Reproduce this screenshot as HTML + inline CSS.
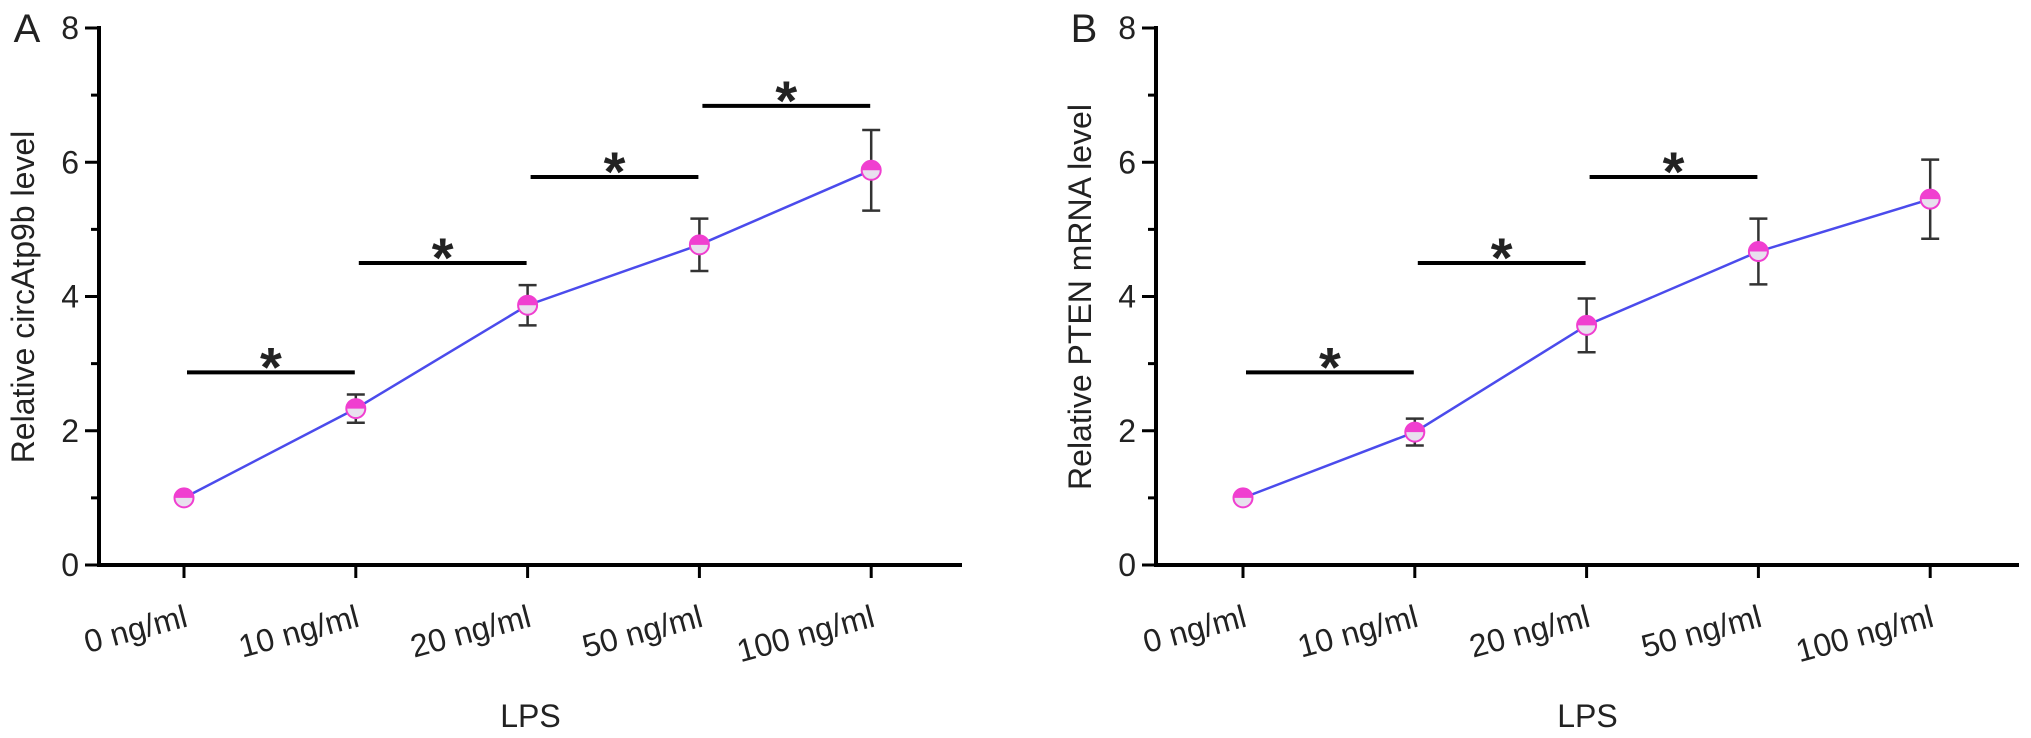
<!DOCTYPE html>
<html><head><meta charset="utf-8">
<style>
html,body{margin:0;padding:0;background:#fff;}
svg{display:block;}
text{font-family:"Liberation Sans",Arial,sans-serif;fill:#222;}
</style></head>
<body>
<svg id="chart" width="2031" height="738" viewBox="0 0 2031 738" xmlns="http://www.w3.org/2000/svg"></svg>
<script>
const categories = ["0 ng/ml","10 ng/ml","20 ng/ml","50 ng/ml","100 ng/ml"];
const yTicks = [0,2,4,6,8];
const valuesA = [1.0, 2.33, 3.87, 4.77, 5.88];
const errorsA = [0.0, 0.21, 0.30, 0.39, 0.60];
const valuesB = [1.0, 1.98, 3.57, 4.67, 5.45];
const errorsB = [0.0, 0.20, 0.40, 0.49, 0.59];
const sigA = [[0,1,2.87],[1,2,4.5],[2,3,5.78],[3,4,6.84]];
const sigB = [[0,1,2.87],[1,2,4.5],[2,3,5.78]];

const NS = "http://www.w3.org/2000/svg";
const svg = document.getElementById('chart');
function mk(tag, attrs, parent){
  const e = document.createElementNS(NS, tag);
  for (const k in attrs) e.setAttribute(k, attrs[k]);
  (parent||svg).appendChild(e);
  return e;
}

function panel(cfg){
  const g = mk('g', {});
  
  
  const ax = cfg.axisX, y0 = 565, y8 = 28, xEnd = cfg.axisX + 863;
  const yS = v => y0 - (v/8)*(y0-y8);
  const xS = i => cfg.cat0 + i*171.8;

  const yAxis = mk('line', {x1:ax, y1:y8-2, x2:ax, y2:y0+2, stroke:'#000','stroke-width':4}, g);
  
  
  const xAxis = mk('line', {x1:ax-2, y1:y0, x2:xEnd, y2:y0, stroke:'#000','stroke-width':4}, g);
  
  

  for (let v=0; v<=8; v++){
    const major = v%2===0;
    const t = mk('line', {x1:ax-(major?14:8), y1:yS(v), x2:ax, y2:yS(v), stroke:'#000','stroke-width':3}, g);
    
    
  }
  yTicks.forEach(v=>{
    const t = mk('text', {x:ax-20, y:yS(v)+11, 'font-size':32, 'text-anchor':'end'}, g);
    t.textContent = v;
    
    
  });

  categories.forEach((c,i)=>{
    const x = xS(i);
    const t = mk('line', {x1:x, y1:y0, x2:x, y2:y0+13, stroke:'#000','stroke-width':3}, g);
    
    
    const lbl = mk('text', {x:x+5, y:626, 'font-size':32, 'text-anchor':'end', transform:`rotate(-15 ${x+5} 626)`}, g);
    lbl.textContent = c;
    
    
  });

  const xt = mk('text', {x:(ax+xEnd)/2, y:727, 'font-size':32, 'text-anchor':'middle'}, g);
  xt.textContent = 'LPS';
  
  
  const tx = cfg.titleX, ty = 297;
  const yt = mk('text', {x:tx, y:ty, 'font-size':32, 'text-anchor':'middle', transform:`rotate(-90 ${tx} ${ty}) translate(0 11)`}, g);
  yt.textContent = cfg.yTitle;
  
  

  const pl = mk('text', {x:cfg.letterX, y:42, 'font-size':40, 'text-anchor':'middle'}, g);
  pl.textContent = cfg.letter;
  
  

  cfg.sig.forEach(s=>{
    const xa = xS(s[0]) + 3, xb = xS(s[1]) - 1, yy = yS(s[2]);
    const b = mk('line', {x1:xa, y1:yy, x2:xb, y2:yy, stroke:'#000','stroke-width':4}, g);
    
    
    const st = mk('text', {x:(xa+xb)/2, y:yy+14, 'font-size':56, 'font-weight':'bold', 'text-anchor':'middle', fill:'#000'}, g);
    st.textContent = '*';
    
    
  });

  const pts = cfg.values.map((v,i)=>`${xS(i)},${yS(v)}`).join(' ');
  const pl2 = mk('polyline', {points:pts, fill:'none', stroke:'#4b4bec', 'stroke-width':2.5}, g);
  
  

  cfg.values.forEach((v,i)=>{
    const e = cfg.errors[i]; if (!e) return;
    const x = xS(i), yt2 = yS(v+e), yb = yS(v-e);
    const eg = mk('g', {stroke:'#333','stroke-width':2.5}, g);
    
    
    mk('line', {x1:x, y1:yt2, x2:x, y2:yb}, eg);
    mk('line', {x1:x-9, y1:yt2, x2:x+9, y2:yt2}, eg);
    mk('line', {x1:x-9, y1:yb, x2:x+9, y2:yb}, eg);
  });

  cfg.values.forEach((v,i)=>{
    const x = xS(i), y = yS(v), r = 9.5;
    const mg = mk('g', {}, g);
    
    
    mk('circle', {cx:x, cy:y, r:r, fill:'#e8e0ee', stroke:'#f03fd0', 'stroke-width':2}, mg);
    mk('path', {d:`M ${x-r} ${y} A ${r} ${r} 0 0 1 ${x+r} ${y} Z`, fill:'#f03fd0'}, mg);
  });
}

panel({name:'panel-a', letter:'A', letterX:27, titleX:23, axisX:99, cat0:184,
  yTitle:'Relative circAtp9b level', values:valuesA, errors:errorsA, sig:sigA});
panel({name:'panel-b', letter:'B', letterX:1084, titleX:1080, axisX:1156, cat0:1243,
  yTitle:'Relative PTEN mRNA level', values:valuesB, errors:errorsB, sig:sigB});
</script>
</body></html>
